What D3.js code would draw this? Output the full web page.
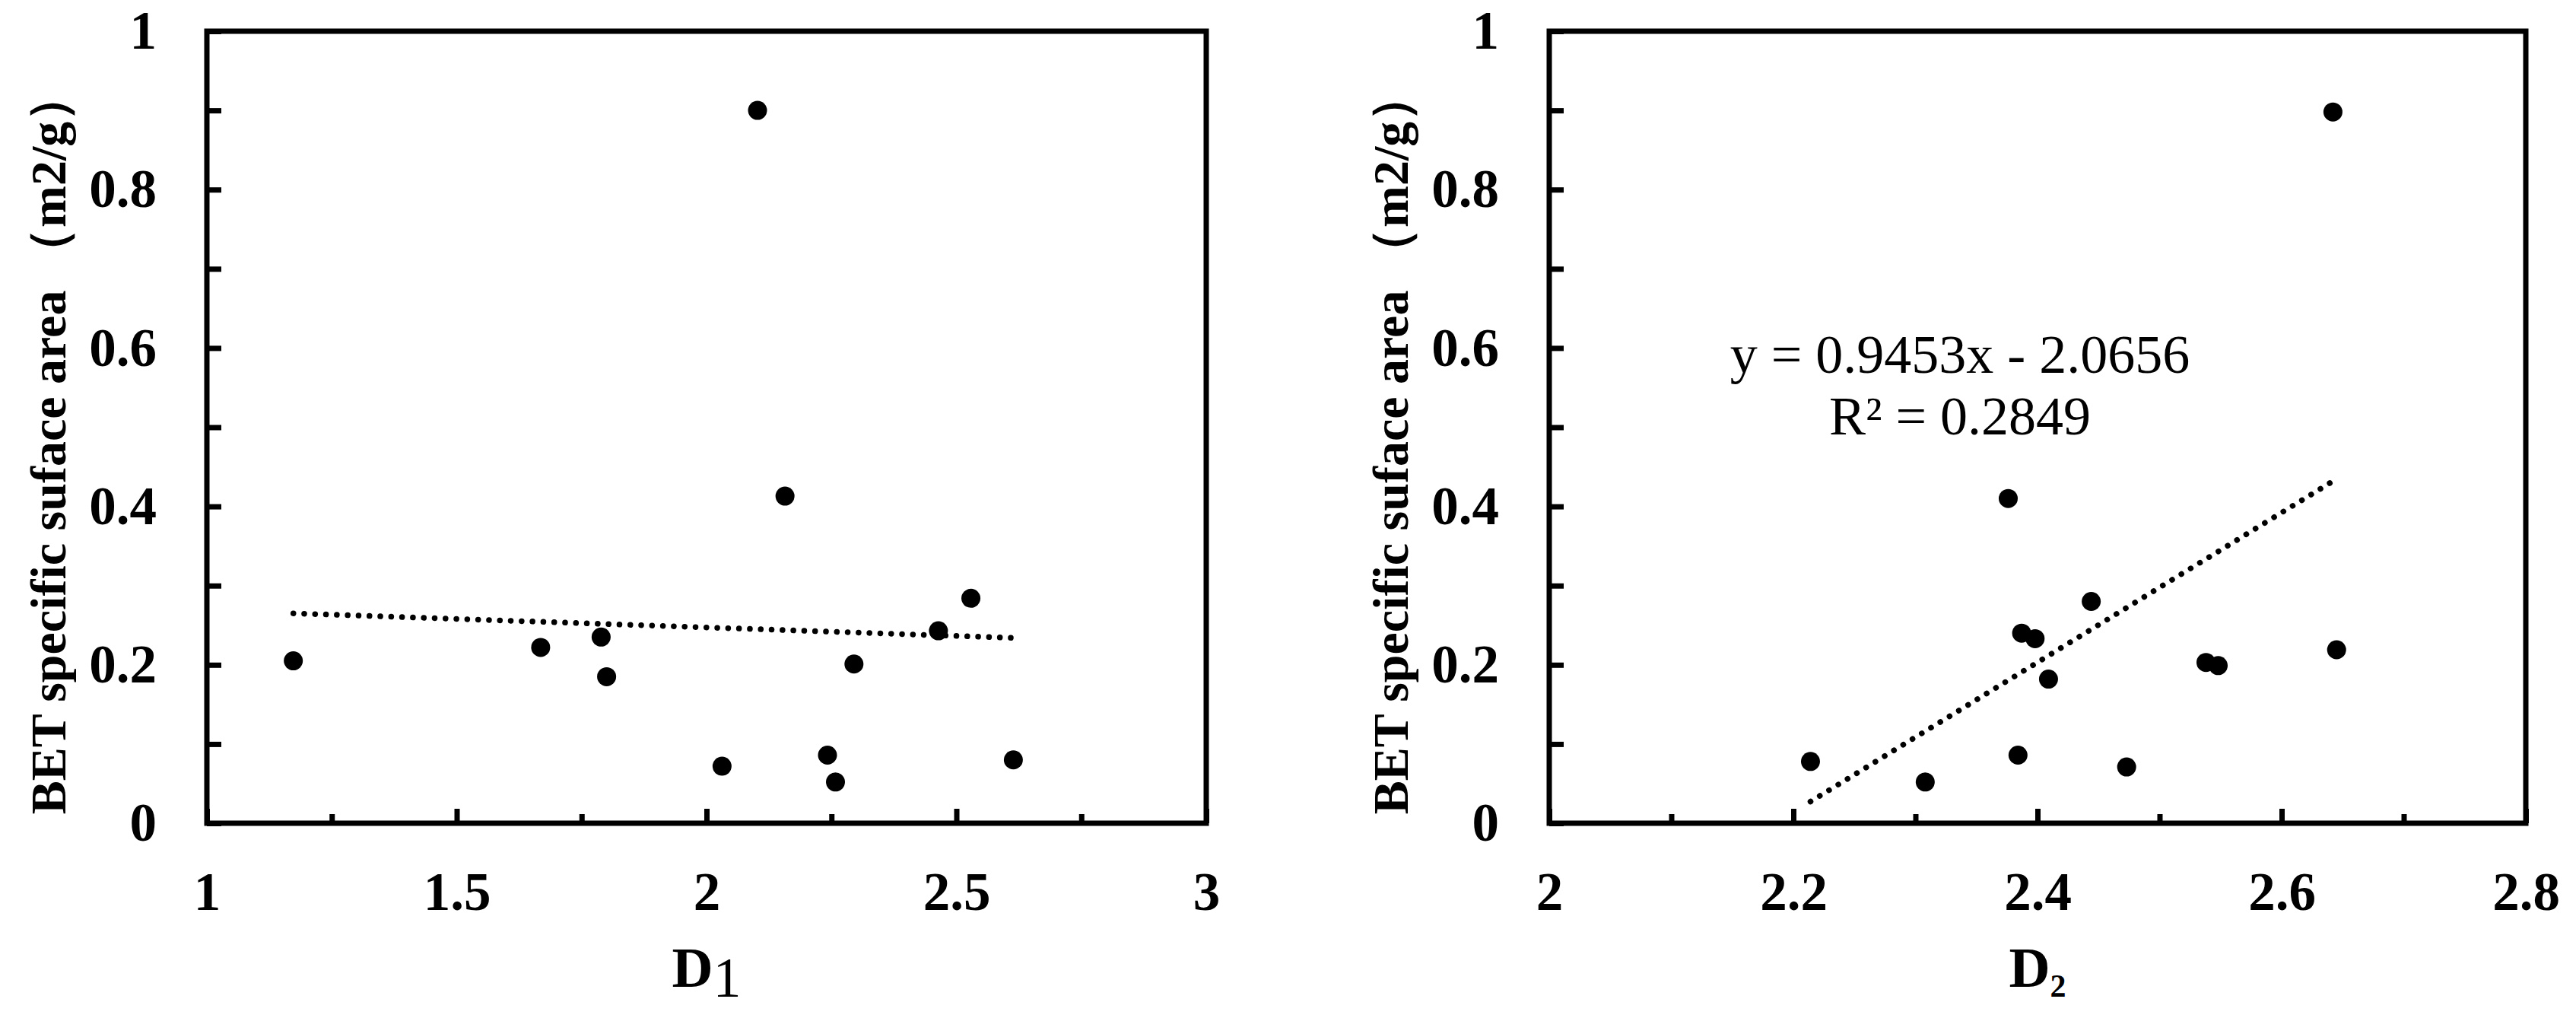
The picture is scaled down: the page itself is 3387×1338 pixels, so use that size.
<!DOCTYPE html>
<html><head><meta charset="utf-8">
<script src="https://cdn.jsdelivr.net/npm/d3@7"></script>
<style>
html,body{margin:0;padding:0;background:#fff;}
svg{display:block;}
text{font-family:"Liberation Serif","Times New Roman",serif;fill:#000;}
</style></head>
<body>
<svg id="chart" width="3387" height="1338"></svg>
<script>
// ---- data ----
const d1Values   = [1.173, 1.668, 1.789, 1.800, 2.031, 2.102, 2.157, 2.242, 2.258, 2.295, 2.464, 2.529, 2.614];
const bet1Values = [0.205, 0.222, 0.235, 0.185, 0.072, 0.900, 0.413, 0.086, 0.052, 0.201, 0.243, 0.284, 0.080];
const d2Values   = [2.214, 2.308, 2.376, 2.384, 2.387, 2.398, 2.409, 2.444, 2.473, 2.538, 2.548, 2.642, 2.645];
const bet2Values = [0.078, 0.052, 0.410, 0.086, 0.240, 0.233, 0.182, 0.280, 0.071, 0.203, 0.199, 0.898, 0.219];
const trend1 = [-0.0215, 0.2902];   // slope, intercept
const trend2 = [0.9453, -2.0656];   // slope, intercept (from equation)
const yTickValues = [0, 0.1, 0.2, 0.3, 0.4, 0.5, 0.6, 0.7, 0.8, 0.9, 1];
const yTickLabels = ["0", "0.2", "0.4", "0.6", "0.8", "1"];
const x1Major = [1, 1.5, 2, 2.5, 3];
const x1Minor = [1.25, 1.75, 2.25, 2.75];
const x2Major = [2, 2.2, 2.4, 2.6, 2.8];
const x2Minor = [2.1, 2.3, 2.5, 2.7];
const yTitle = "BET specific suface area （m2/g）";
const eqLines = ["y = 0.9453x - 2.0656", "R² = 0.2849"];

const svg = d3.select("#chart");
const plotTop = 41, plotBottom = 1082;

function panel(opts) {
  const x = d3.scaleLinear().domain(opts.xDomain).range([opts.left, opts.right]);
  const y = d3.scaleLinear().domain([0, 1]).range([plotBottom, plotTop]);
  const g = svg.append("g");

  const ya = g.append("g").attr("transform", `translate(${opts.left},0)`)
    .call(d3.axisLeft(y).tickValues(yTickValues).tickSize(-19).tickPadding(66)
      .tickFormat(d => { const s = d3.format("~g")(+d.toFixed(2)); return yTickLabels.includes(s) ? s : ""; }));
  ya.select(".domain").remove();
  ya.selectAll("line").attr("stroke", "#000").attr("stroke-width", 7);
  ya.selectAll("text").attr("font-size", 71).attr("font-weight", "bold").attr("fill", "#000");

  const xa = g.append("g").attr("transform", `translate(0,${plotBottom})`)
    .call(d3.axisBottom(x).tickValues(opts.major).tickSize(-19).tickPadding(64).tickFormat(d3.format("~g")));
  xa.select(".domain").remove();
  xa.selectAll("line").attr("stroke", "#000").attr("stroke-width", 7);
  xa.selectAll("text").attr("font-size", 71).attr("font-weight", "bold").attr("fill", "#000");
  const xm = g.append("g").attr("transform", `translate(0,${plotBottom})`)
    .call(d3.axisBottom(x).tickValues(opts.minor).tickSize(-12).tickFormat(""));
  xm.select(".domain").remove();
  xm.selectAll("line").attr("stroke", "#000").attr("stroke-width", 7);

  g.append("rect").attr("x", opts.left).attr("y", plotTop)
    .attr("width", opts.right - opts.left).attr("height", plotBottom - plotTop)
    .attr("fill", "none").attr("stroke", "#000").attr("stroke-width", 7);

  const xs = d3.extent(opts.xs);
  const line = d3.line().x(d => x(d)).y(d => y(opts.trend[0] * d + opts.trend[1]));
  g.append("path").attr("d", line(xs)).attr("fill", "none").attr("stroke", "#000")
    .attr("stroke-width", 7.5).attr("stroke-linecap", "round").attr("stroke-dasharray", "0.1 14.2");

  g.selectAll("circle.pt").data(opts.xs.map((v, i) => [v, opts.ys[i]])).join("circle")
    .attr("class", "pt").attr("cx", d => x(d[0])).attr("cy", d => y(d[1])).attr("r", 12.5).attr("fill", "#000");

  g.append("text").attr("transform", `translate(${opts.left - 186},582) rotate(-90)`)
    .attr("text-anchor", "middle").attr("font-size", 66).attr("font-weight", "bold").text(yTitle);

  const xt = g.append("text").attr("x", (opts.left + opts.right) / 2).attr("y", 1297)
    .attr("text-anchor", "middle").attr("font-size", 75).attr("font-weight", "bold");
  xt.append("tspan").text("D");
  xt.append("tspan").attr("font-size", opts.subSize).attr("font-weight", opts.subWeight)
    .attr("dy", 13).text(opts.sub);
  return {x, y, g};
}

panel({left: 272, right: 1586, xDomain: [1, 3], major: x1Major, minor: x1Minor,
  xs: d1Values, ys: bet1Values, trend: trend1, sub: "1", subSize: 74, subWeight: "normal"});
const p2 = panel({left: 2037, right: 3321, xDomain: [2, 2.8], major: x2Major, minor: x2Minor,
  xs: d2Values, ys: bet2Values, trend: trend2, sub: "2", subSize: 42, subWeight: "bold"});

p2.g.append("text").attr("x", 2577).attr("y", 490).attr("text-anchor", "middle")
  .attr("font-size", 72).text(eqLines[0]);
p2.g.append("text").attr("x", 2577).attr("y", 571).attr("text-anchor", "middle")
  .attr("font-size", 72).text(eqLines[1]);
</script>
</body></html>
